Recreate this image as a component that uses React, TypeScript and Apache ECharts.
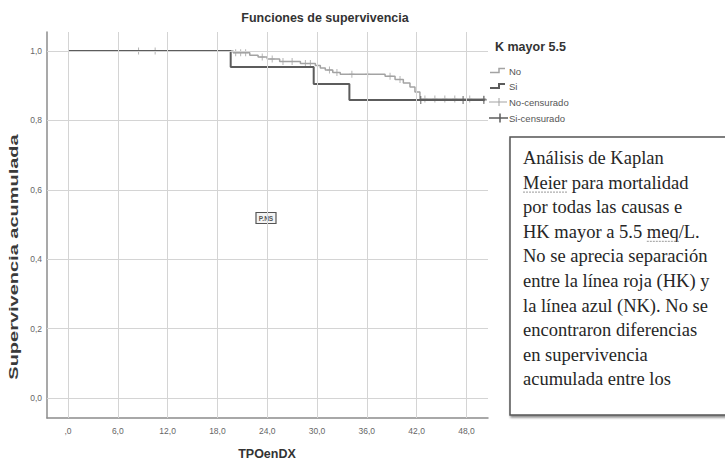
import React, { useEffect, useRef } from "react";
import * as echarts from "echarts";

const TITLE = "Funciones de supervivencia";
const X_NAME = "TPOenDX";
const Y_NAME = "Supervivencia acumulada";
const LEGEND_TITLE = "K mayor 5.5";
const LEGEND_ITEMS = ["No", "Si", "No-censurado", "Si-censurado"];
const X_TICKS = [0, 6, 12, 18, 24, 30, 36, 42, 48];
const Y_TICKS = [0, 0.2, 0.4, 0.6, 0.8, 1.0];

// Kaplan-Meier step points [time, survival]
const NO_STEPS: [number, number][] = [
  [0, 1], [19.9, 0.995], [21.9, 0.988], [22.9, 0.983], [24.0, 0.977], [25.5, 0.97],
  [28.0, 0.964], [29.8, 0.958], [30.4, 0.951], [31.0, 0.945], [31.9, 0.938], [32.8, 0.933],
  [38.2, 0.927], [39.4, 0.918], [40.4, 0.908], [41.2, 0.896], [41.8, 0.882], [42.4, 0.862],
  [50.3, 0.862],
];
const SI_STEPS: [number, number][] = [
  [0, 1], [19.6, 0.954], [29.6, 0.905], [33.9, 0.859], [50.2, 0.859],
];
const NO_CENSORED_TIMES = [8.5, 10.5, 20.2, 20.8, 21.4, 23.4, 24.6, 25.9, 27.0, 28.6, 29.2, 31.5, 32.4, 34.2, 36.1, 38.8, 40.0, 43.0, 44.2, 45.4, 46.6, 48.4, 50.1];
const SI_CENSORED_TIMES = [42.5, 47.6, 50.1];

const NOTE_LINES = [
  "Análisis de Kaplan",
  "Meier para mortalidad",
  "por todas las causas e",
  "HK mayor a 5.5 meq/L.",
  "No se aprecia separación",
  "entre la línea roja (HK) y",
  "la línea azul (NK). No se",
  "encontraron diferencias",
  "en supervivencia",
  "acumulada entre los",
];
const P_LABEL = "P.NS";

// layout (pixels)
const NOTE_LEFT = 523;
const NOTE_TOP = 158;
const NOTE_STEP = 24.6;
const NOTE_FONT_SIZE = 18.5;

const X_MIN = -2.53;
const X_MAX = 50.6;
const Y_MIN = -0.0576;
const Y_MAX = 1.0548;

const NO_COLOR = "#a3a3a3";
const SI_COLOR = "#5c5c5c";
const SANS = '"Liberation Sans", Arial, sans-serif';
const SERIF = '"Liberation Serif", "Times New Roman", serif';
const PLUS = "path://M2,0h1v7h-1zM0,3h5v1h-5z";

function survivalAt(steps: [number, number][], t: number) {
  let v = steps[0][1];
  for (const [ti, vi] of steps) if (ti <= t) v = vi;
  return v;
}

const fmt = (v: number) => (v === 0 ? "0,0" : v.toFixed(1).replace(".", ","));
const fmtX = (v: number) => (v === 0 ? ",0" : v.toFixed(1).replace(".", ","));

function txt(x: number, y: number, text: string, font: string, fill: string, align = "left", extra: any = {}) {
  return {
    type: "text",
    x,
    y,
    silent: true,
    ...extra,
    style: {
      text,
      font,
      fill,
      align,
      textAlign: align,
      verticalAlign: "middle",
      textVerticalAlign: "middle",
    },
  };
}

export default function App() {
  const ref = useRef<HTMLDivElement>(null);
  useEffect(() => {
    if (!ref.current) return;
    const chart = echarts.init(ref.current, null, { renderer: "svg" });

    const canvas = document.createElement("canvas");
    const ctx = canvas.getContext("2d")!;
    const noteFont = `${NOTE_FONT_SIZE}px ${SERIF}`;
    ctx.font = noteFont;
    const measure = (s: string) => ctx.measureText(s).width;

    // underline positions (spell-check marks)
    const meierW = measure("Meier");
    const meqStart = NOTE_LEFT + measure("HK mayor a 5.5 ");
    const meqW = measure("meq");
    const lineY = (i: number) => NOTE_TOP + i * NOTE_STEP;

    const legendY = [71, 86, 102, 118];
    const graphic: any[] = [
      txt(325, 18, TITLE, `bold 12.5px ${SANS}`, "#333", "center"),
      txt(267, 454, X_NAME, `bold 12.5px ${SANS}`, "#333", "center"),
      txt(14, 257, Y_NAME, `bold 12.5px ${SANS}`, "#3a3a3a", "center", { rotation: Math.PI / 2, scaleX: 1.6 }),
      txt(495, 47, LEGEND_TITLE, `bold 12.5px ${SANS}`, "#333"),
      // legend icons
      { type: "polyline", silent: true, shape: { points: [[490, 72.5], [499, 72.5], [499, 68.5], [505, 68.5]] }, style: { stroke: NO_COLOR, lineWidth: 1.5, fill: "none" } },
      { type: "polyline", silent: true, shape: { points: [[490, 88], [499, 88], [499, 84], [505, 84]] }, style: { stroke: SI_COLOR, lineWidth: 2, fill: "none" } },
      { type: "line", silent: true, shape: { x1: 489, y1: 102, x2: 507, y2: 102 }, style: { stroke: NO_COLOR, lineWidth: 1 } },
      { type: "line", silent: true, shape: { x1: 499, y1: 98, x2: 499, y2: 106 }, style: { stroke: NO_COLOR, lineWidth: 1 } },
      { type: "line", silent: true, shape: { x1: 489, y1: 118, x2: 508, y2: 118 }, style: { stroke: SI_COLOR, lineWidth: 1.5 } },
      { type: "line", silent: true, shape: { x1: 500, y1: 113.5, x2: 500, y2: 122.5 }, style: { stroke: SI_COLOR, lineWidth: 1.5 } },
      ...LEGEND_ITEMS.map((t, i) => txt(509, legendY[i], t, `9.5px ${SANS}`, "#555")),
      // p label box
      { type: "rect", silent: true, shape: { x: 256, y: 212.5, width: 20, height: 11 }, style: { fill: "#f4f4f4", stroke: "#555", lineWidth: 1.2 } },
      txt(266, 218, P_LABEL, `bold 6.5px ${SANS}`, "#555", "center"),
      // note box
      {
        type: "rect",
        silent: true,
        shape: { x: 510, y: 137, width: 240, height: 278 },
        style: { fill: "#fff", stroke: "#555", lineWidth: 1.5, shadowColor: "rgba(0,0,0,0.45)", shadowOffsetY: 2, shadowOffsetX: 1, shadowBlur: 2 },
      },
      ...NOTE_LINES.map((t, i) => txt(NOTE_LEFT, lineY(i), t, noteFont, "#262626", "left")),
      { type: "line", silent: true, shape: { x1: NOTE_LEFT, y1: lineY(1) + 9.5, x2: NOTE_LEFT + meierW, y2: lineY(1) + 9.5 }, style: { stroke: "#999", lineWidth: 1, lineDash: [2, 1] } },
      { type: "line", silent: true, shape: { x1: meqStart, y1: lineY(3) + 9.5, x2: meqStart + meqW, y2: lineY(3) + 9.5 }, style: { stroke: "#999", lineWidth: 1, lineDash: [2, 1] } },
    ];

    const option: any = {
      animation: false,
      backgroundColor: "#fff",
      grid: { left: 47, top: 32, width: 441, height: 386, containLabel: false },
      xAxis: {
        type: "value",
        min: X_MIN,
        max: X_MAX,
        axisLine: { show: true, onZero: false, lineStyle: { color: "#8c8c8c", width: 1.5 } },
        axisTick: { show: false, customValues: X_TICKS },
        splitLine: { show: false },
        axisLabel: { customValues: X_TICKS, formatter: fmtX, color: "#666", fontSize: 8.5, fontFamily: SANS, margin: 8 },
      },
      yAxis: {
        type: "value",
        min: Y_MIN,
        max: Y_MAX,
        axisLine: { show: true, onZero: false, lineStyle: { color: "#8c8c8c", width: 1.5 } },
        axisTick: { show: false, customValues: Y_TICKS },
        splitLine: { show: false },
        axisLabel: { customValues: Y_TICKS, formatter: fmt, color: "#666", fontSize: 8.5, fontFamily: SANS, margin: 5 },
      },
      series: [
        {
          type: "line",
          name: "grid",
          data: [[0, 1]],
          symbol: "none",
          lineStyle: { opacity: 0 },
          silent: true,
          z: 0,
          markLine: {
            silent: true,
            symbol: "none",
            label: { show: false },
            emphasis: { disabled: true },
            lineStyle: { color: "#d4d4d4", width: 1, type: "solid" },
            data: [...X_TICKS.map((v) => ({ xAxis: v })), ...Y_TICKS.map((v) => ({ yAxis: v }))],
          },
        },
        {
          type: "line",
          name: "No",
          step: "end",
          data: NO_STEPS,
          symbol: "none",
          lineStyle: { color: NO_COLOR, width: 1.5 },
          z: 2,
        },
        {
          type: "scatter",
          name: "No-censurado",
          data: NO_CENSORED_TIMES.map((t) => [t, survivalAt(NO_STEPS, t)]),
          symbol: PLUS,
          symbolSize: [5, 7],
          itemStyle: { color: NO_COLOR },
          z: 3,
        },
        {
          type: "line",
          name: "Si",
          step: "end",
          data: SI_STEPS,
          symbol: "none",
          lineStyle: { color: SI_COLOR, width: 2 },
          z: 4,
        },
        {
          type: "scatter",
          name: "Si-censurado",
          data: SI_CENSORED_TIMES.map((t) => [t, survivalAt(SI_STEPS, t)]),
          symbol: PLUS,
          symbolSize: [6, 8],
          itemStyle: { color: SI_COLOR },
          z: 5,
        },
      ],
      graphic,
    };
    chart.setOption(option);
    return () => chart.dispose();
  }, []);
  return (
    <div
      ref={ref}
      style={{ position: "fixed", left: 0, top: 0, width: 725, height: 462, background: "#fff" }}
    />
  );
}
